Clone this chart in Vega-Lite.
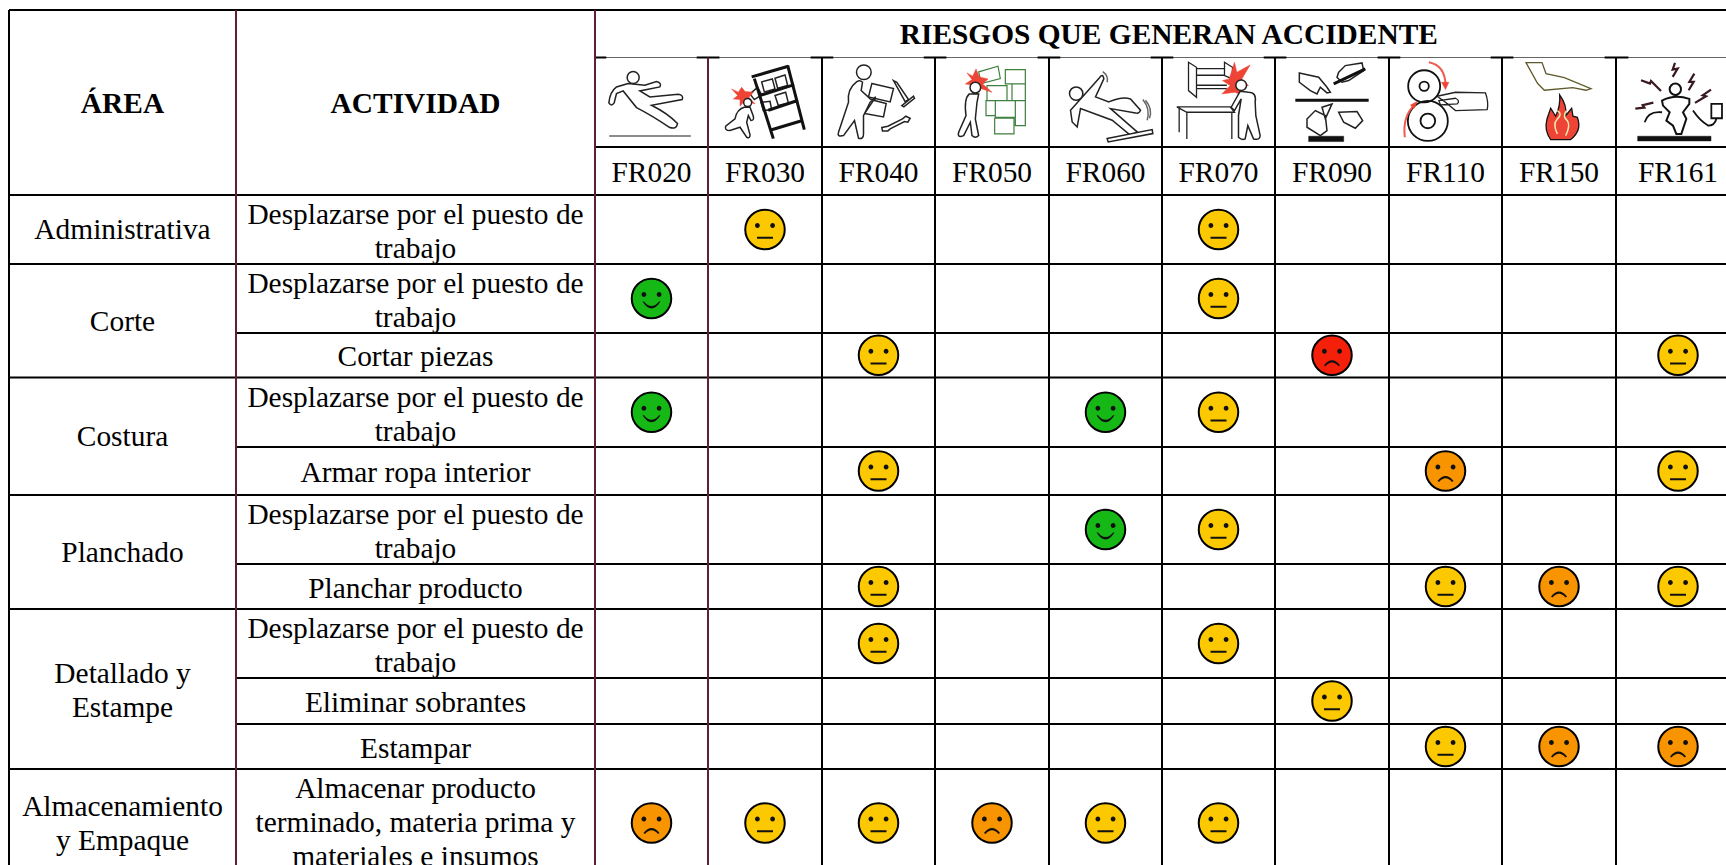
{
"$schema":"https://vega.github.io/schema/vega-lite/v6.json",
"width":1726,"height":865,"padding":0,"autosize":"none","background":"white",
"config":{"view":{"stroke":null}},
"resolve":{"scale":{"shape":"independent","fill":"independent","stroke":"independent","strokeWidth":"independent","color":"independent"}},
"datasets":{
"h":[
{"a":0,"b":12,"fila":0,"tipo":"negro"},
{"a":2,"b":12,"fila":1,"tipo":"gris"},
{"a":2,"b":2.1,"fila":1,"tipo":"negro"},{"a":2.9,"b":3.1,"fila":1,"tipo":"negro"},{"a":3.9,"b":4.1,"fila":1,"tipo":"negro"},{"a":4.9,"b":5.1,"fila":1,"tipo":"negro"},{"a":5.9,"b":6.1,"fila":1,"tipo":"negro"},{"a":6.9,"b":7.1,"fila":1,"tipo":"negro"},{"a":7.9,"b":8.1,"fila":1,"tipo":"negro"},{"a":8.9,"b":9.1,"fila":1,"tipo":"negro"},{"a":9.9,"b":10.1,"fila":1,"tipo":"negro"},{"a":10.9,"b":11.1,"fila":1,"tipo":"negro"},
{"a":2,"b":12,"fila":2,"tipo":"negro"},
{"a":0,"b":12,"fila":3,"tipo":"negro"},
{"a":0,"b":12,"fila":4,"tipo":"negro"},
{"a":1,"b":12,"fila":5,"tipo":"negro"},
{"a":0,"b":12,"fila":6,"tipo":"negro"},
{"a":1,"b":12,"fila":7,"tipo":"negro"},
{"a":0,"b":12,"fila":8,"tipo":"negro"},
{"a":1,"b":12,"fila":9,"tipo":"negro"},
{"a":0,"b":12,"fila":10,"tipo":"negro"},
{"a":1,"b":12,"fila":11,"tipo":"negro"},
{"a":1,"b":12,"fila":12,"tipo":"negro"},
{"a":0,"b":12,"fila":13,"tipo":"negro"}
],
"v":[
{"col":0,"a":0,"b":14,"tipo":"negro"},
{"col":1,"a":0,"b":14,"tipo":"guinda"},
{"col":2,"a":0,"b":14,"tipo":"guinda"},
{"col":3,"a":1,"b":14,"tipo":"guinda"},
{"col":4,"a":1,"b":14,"tipo":"negro"},
{"col":5,"a":1,"b":14,"tipo":"negro"},
{"col":6,"a":1,"b":14,"tipo":"negro"},
{"col":7,"a":1,"b":14,"tipo":"negro"},
{"col":8,"a":1,"b":14,"tipo":"negro"},
{"col":9,"a":1,"b":14,"tipo":"negro"},
{"col":10,"a":1,"b":14,"tipo":"negro"},
{"col":11,"a":1,"b":14,"tipo":"negro"}
],
"iconos":[
{"col":2.5,"parte":"fr020_cuerpo","estilo":"linea"},
{"col":2.5,"parte":"fr020_cabeza","estilo":"linea"},
{"col":2.5,"parte":"fr020_piso","estilo":"gris"},
{"col":3.5,"parte":"fr030_cajas","estilo":"linea"},
{"col":3.5,"parte":"fr030_estante","estilo":"grueso"},
{"col":3.5,"parte":"fr030_golpe","estilo":"rojo"},
{"col":3.5,"parte":"fr030_persona","estilo":"linea"},
{"col":4.5,"parte":"fr040_cajas","estilo":"linea"},
{"col":4.5,"parte":"fr040_persona","estilo":"linea"},
{"col":4.5,"parte":"fr040_herr","estilo":"linea"},
{"col":5.5,"parte":"fr050_cajas","estilo":"verde"},
{"col":5.5,"parte":"fr050_golpe","estilo":"rojo"},
{"col":5.5,"parte":"fr050_persona","estilo":"linea"},
{"col":6.5,"parte":"fr060_cuerpo","estilo":"linea"},
{"col":6.5,"parte":"fr060_tabla","estilo":"linea"},
{"col":6.5,"parte":"fr060_mov","estilo":"gris"},
{"col":7.5,"parte":"fr070_mueble","estilo":"trazo"},
{"col":7.5,"parte":"fr070_golpe","estilo":"rojo"},
{"col":7.5,"parte":"fr070_persona","estilo":"linea"},
{"col":8.5,"parte":"fr090_manos","estilo":"linea"},
{"col":8.5,"parte":"fr090_linea","estilo":"grueso"},
{"col":8.5,"parte":"fr090_base","estilo":"solido"},
{"col":9.5,"parte":"fr110_mano","estilo":"trazo"},
{"col":9.5,"parte":"fr110_rodillos","estilo":"rueda"},
{"col":9.5,"parte":"fr110_arco","estilo":"flecha"},
{"col":9.5,"parte":"fr110_punta","estilo":"rojo"},
{"col":10.5,"parte":"fr150_mano","estilo":"oliva"},
{"col":10.5,"parte":"fr150_llama","estilo":"rojoborde"},
{"col":10.5,"parte":"fr150_interior","estilo":"crema"},
{"col":11.5,"parte":"fr161_cuerpo","estilo":"lineagruesa"},
{"col":11.5,"parte":"fr161_cable","estilo":"rueda"},
{"col":11.5,"parte":"fr161_rayos","estilo":"rayo"},
{"col":11.5,"parte":"fr161_base","estilo":"solido"}
],
"caras":[
{"col":3.5,"fila":3.5,"nivel":"amarillo","gesto":"neutro"},{"col":7.5,"fila":3.5,"nivel":"amarillo","gesto":"neutro"},
{"col":2.5,"fila":4.5,"nivel":"verde","gesto":"sonrisa"},{"col":7.5,"fila":4.5,"nivel":"amarillo","gesto":"neutro"},
{"col":4.5,"fila":5.5,"nivel":"amarillo","gesto":"neutro"},{"col":8.5,"fila":5.5,"nivel":"rojo","gesto":"triste"},{"col":11.5,"fila":5.5,"nivel":"amarillo","gesto":"neutro"},
{"col":2.5,"fila":6.5,"nivel":"verde","gesto":"sonrisa"},{"col":6.5,"fila":6.5,"nivel":"verde","gesto":"sonrisa"},{"col":7.5,"fila":6.5,"nivel":"amarillo","gesto":"neutro"},
{"col":4.5,"fila":7.5,"nivel":"amarillo","gesto":"neutro"},{"col":9.5,"fila":7.5,"nivel":"naranja","gesto":"triste"},{"col":11.5,"fila":7.5,"nivel":"amarillo","gesto":"neutro"},
{"col":6.5,"fila":8.5,"nivel":"verde","gesto":"sonrisa"},{"col":7.5,"fila":8.5,"nivel":"amarillo","gesto":"neutro"},
{"col":4.5,"fila":9.5,"nivel":"amarillo","gesto":"neutro"},{"col":9.5,"fila":9.5,"nivel":"amarillo","gesto":"neutro"},{"col":10.5,"fila":9.5,"nivel":"naranja","gesto":"triste"},{"col":11.5,"fila":9.5,"nivel":"amarillo","gesto":"neutro"},
{"col":4.5,"fila":10.5,"nivel":"amarillo","gesto":"neutro"},{"col":7.5,"fila":10.5,"nivel":"amarillo","gesto":"neutro"},
{"col":8.5,"fila":11.5,"nivel":"amarillo","gesto":"neutro"},
{"col":9.5,"fila":12.5,"nivel":"amarillo","gesto":"neutro"},{"col":10.5,"fila":12.5,"nivel":"naranja","gesto":"triste"},{"col":11.5,"fila":12.5,"nivel":"naranja","gesto":"triste"},
{"col":2.5,"fila":13.5,"nivel":"naranja","gesto":"triste"},{"col":3.5,"fila":13.5,"nivel":"amarillo","gesto":"neutro"},{"col":4.5,"fila":13.5,"nivel":"amarillo","gesto":"neutro"},{"col":5.5,"fila":13.5,"nivel":"naranja","gesto":"triste"},{"col":6.5,"fila":13.5,"nivel":"amarillo","gesto":"neutro"},{"col":7.5,"fila":13.5,"nivel":"amarillo","gesto":"neutro"}
],
"titulos":[
{"col":7.06,"fila":0.48,"texto":"RIESGOS QUE GENERAN ACCIDENTE"},
{"col":0.5,"fila":1.5,"texto":"ÁREA"},
{"col":1.5,"fila":1.5,"texto":"ACTIVIDAD"}
],
"textos":[
{"col":2.5,"fila":2.5,"texto":"FR020"},{"col":3.5,"fila":2.5,"texto":"FR030"},{"col":4.5,"fila":2.5,"texto":"FR040"},{"col":5.5,"fila":2.5,"texto":"FR050"},{"col":6.5,"fila":2.5,"texto":"FR060"},{"col":7.5,"fila":2.5,"texto":"FR070"},{"col":8.5,"fila":2.5,"texto":"FR090"},{"col":9.5,"fila":2.5,"texto":"FR110"},{"col":10.5,"fila":2.5,"texto":"FR150"},{"col":11.5,"fila":2.5,"texto":"FR161"},
{"col":0.5,"fila":3.48,"texto":"Administrativa"},
{"col":0.5,"fila":4.81,"texto":"Corte"},
{"col":0.5,"fila":6.83,"texto":"Costura"},
{"col":0.5,"fila":8.81,"texto":"Planchado"},
{"col":0.5,"fila":10.92,"texto":"Detallado y\nEstampe"},
{"col":0.5,"fila":13.33,"texto":"Almacenamiento\ny Empaque"},
{"col":1.5,"fila":3.26,"texto":"Desplazarse por el puesto de\ntrabajo"},
{"col":1.5,"fila":4.26,"texto":"Desplazarse por el puesto de\ntrabajo"},
{"col":1.5,"fila":5.5,"texto":"Cortar piezas"},
{"col":1.5,"fila":6.26,"texto":"Desplazarse por el puesto de\ntrabajo"},
{"col":1.5,"fila":7.5,"texto":"Armar ropa interior"},
{"col":1.5,"fila":8.26,"texto":"Desplazarse por el puesto de\ntrabajo"},
{"col":1.5,"fila":9.5,"texto":"Planchar producto"},
{"col":1.5,"fila":10.26,"texto":"Desplazarse por el puesto de\ntrabajo"},
{"col":1.5,"fila":11.5,"texto":"Eliminar sobrantes"},
{"col":1.5,"fila":12.5,"texto":"Estampar"},
{"col":1.5,"fila":13.17,"texto":"Almacenar producto\nterminado, materia prima y\nmateriales e insumos"}
]
},
"layer":[
{"data":{"name":"h"},"mark":{"type":"rule"},
"encoding":{
"x":{"field":"a","type":"quantitative","axis":null,"scale":{"domain":[0,1,2,3,4,5,6,7,8,9,10,11,12],"range":[9,236,595,708,822,935,1049,1162,1275,1389,1502,1616,1740]}},
"x2":{"field":"b"},
"y":{"field":"fila","type":"quantitative","axis":null,"scale":{"domain":[0,1,2,3,4,5,6,7,8,9,10,11,12,13,14],"range":[10,57.5,147,195,264,333,377.5,447,495,564,609,678,724,769,877]}},
"color":{"field":"tipo","type":"nominal","legend":null,"scale":{"domain":["negro","guinda","gris"],"range":["#000000","#5f2030","#666666"]}},
"strokeWidth":{"field":"tipo","type":"nominal","legend":null,"scale":{"type":"ordinal","domain":["negro","guinda","gris"],"range":[2,2,1]}}
}},
{"data":{"name":"v"},"mark":{"type":"rule"},
"encoding":{
"x":{"field":"col","type":"quantitative","axis":null},
"y":{"field":"a","type":"quantitative","axis":null},
"y2":{"field":"b"},
"color":{"field":"tipo","type":"nominal","legend":null,"scale":{"domain":["negro","guinda","gris"],"range":["#000000","#5f2030","#666666"]}},
"strokeWidth":{"field":"tipo","type":"nominal","legend":null,"scale":{"type":"ordinal","domain":["negro","guinda","gris"],"range":[2,2,1]}}
}},
{"data":{"name":"iconos"},"mark":{"type":"point","filled":true,"opacity":1,"size":0.4444},
"encoding":{
"x":{"field":"col","type":"quantitative","axis":null},
"y":{"datum":1.5,"type":"quantitative","axis":null},
"shape":{"field":"parte","type":"nominal","legend":null,"scale":{
"domain":["fr020_cuerpo","fr020_cabeza","fr020_piso","fr030_cajas","fr030_estante","fr030_golpe","fr030_persona","fr040_cajas","fr040_persona","fr040_herr","fr050_cajas","fr050_golpe","fr050_persona","fr060_cuerpo","fr060_tabla","fr060_mov","fr070_mueble","fr070_golpe","fr070_persona","fr090_manos","fr090_linea","fr090_base","fr110_mano","fr110_rodillos","fr110_arco","fr110_punta","fr150_mano","fr150_llama","fr150_interior","fr161_cuerpo","fr161_cable","fr161_rayos","fr161_base"],
"range":[
"M -70 -56 L -105 -46 Q -125 -31 -128 2 Q -120 14 -112 2 L -105 -26 L -85 -34 L -45 16 Q 0 39 55 76 Q 75 82 78 64 Q 50 34 0 9 L 92 -8 Q 98 -21 80 -24 L -5 -16 L -35 -34 L 25 -46 Q 32 -58 15 -62 L -20 -51 Z",
"M -73 -74 A 18 18 0 1 0 -37 -74 A 18 18 0 1 0 -73 -74 Z",
"M -127 101 L 118 101",
"M -10 -61 L 22 -70 L 30 -40 L -2 -31 Z M 30 -72 L 60 -82 L 68 -50 L 38 -42 Z M 30 -20 L 62 -30 L 70 2 L 40 10 Z M -45 -25 L -22 -45 L -10 -22 L -32 -8 Z M -12 0 L 15 -3 L 20 22 L -5 25 Z",
"M -32 -71 L 25 109 M 68 -111 L 118 82 M -40 -76 L 70 -108 M -13 -21 L 88 -53 M 10 24 L 100 -6 M 15 84 L 115 54",
"M -100 -40 L -80 -30 L -70 -45 L -60 -32 L -35 -30 L -48 -15 L -30 5 L -60 -5 L -75 12 L -75 -8 L -95 -10 L -82 -20 Z",
"M -64 1 A 12 12 0 1 0 -40 1 A 12 12 0 1 0 -64 1 Z M -60 14 Q -85 20 -90 50 L -118 72 Q -122 85 -105 85 L -75 75 L -55 105 Q -45 110 -45 98 L -55 60 L -50 40 L -42 55 Q -32 55 -35 42 L -45 15 Z",
"M -20 -56 L 45 -41 L 35 -1 L -30 -16 Z M -15 -6 L 23 4 L 15 44 L -42 34 Z",
"M -66 -90 A 22 22 0 1 0 -22 -90 A 22 22 0 1 0 -66 -90 Z M -65 -62 Q -95 -40 -90 0 L -120 90 Q -125 105 -105 100 L -72 55 L -60 108 Q -45 112 -45 95 L -45 40 L -25 0 L -10 -15 Q -5 -5 -25 -10 L -52 -35 L -48 -60 Q -55 -68 -65 -62 Z",
"M 45 -65 L 55 -60 L 90 -8 L 80 -2 Z M 70 10 L 105 -18 L 108 -12 L 76 14 Z M 10 76 L 28 72 L 72 50 L 82 42 L 95 48 L 88 60 L 78 58 L 35 80 L 28 86 L 12 86 Z",
"M -40 -91 L 18 -108 L 25 -71 L -32 -56 Z M 40 -98 L 100 -98 L 100 -55 L 40 -55 Z M 60 -55 L 100 -55 L 100 -5 L 60 -5 Z M 70 -5 L 100 -5 L 100 70 L 70 70 Z M -18 -5 L 10 -5 L 10 40 L -18 40 Z M -15 -50 L 45 -50 L 45 -5 L -15 -5 Z M 10 -5 L 70 -5 L 70 45 L 10 45 Z M 8 48 L 66 48 L 66 95 L 8 95 Z",
"M -75 -88 L -58 -78 L -48 -100 L -38 -76 L -12 -70 L -28 -55 L 0 -30 L -30 -40 L -50 -50 L -80 -55 L -60 -68 Z",
"M -66 -44 A 16 16 0 1 0 -34 -44 A 16 16 0 1 0 -66 -44 Z M -68 -25 Q -85 -10 -78 40 L -100 90 Q -105 108 -85 100 L -65 60 L -60 100 Q -50 110 -40 100 L -50 50 L -45 0 L -40 -25 Z",
"M -108 -26 A 20 20 0 1 0 -68 -26 A 20 20 0 1 0 -108 -26 Z M -60 -26 L -20 -71 Q -8 -90 -5 -70 L -30 -16 L 10 -1 Q 50 -18 75 -10 L 105 24 Q 100 36 90 32 L 15 19 L 95 89 L 75 99 L 20 54 L -75 19 L -85 74 L -100 59 L -105 24 Z",
"M 5 109 L 140 82 L 142 94 L 8 119 Z",
"M 112 -8 Q 135 20 125 54 M 120 -6 Q 142 20 132 48 M -8 -92 Q 10 -78 5 -60",
"M -90 -120 L -66 -105 L -66 -15 L -90 -35 Z M -66 -101 L 20 -101 M -66 -81 L 20 -81 M -66 -51 L 25 -51 M -66 -41 L 25 -41 M 18 -120 L 42 -105 L 42 -70 L 18 -80 Z M -125 14 L 35 14 L 48 30 L -95 30 Z M -118 14 L -118 90 M -95 30 L -95 110 M 40 30 L 40 110",
"M 12 -65 L 32 -70 L 48 -120 L 55 -90 L 95 -112 L 70 -70 L 90 -50 L 68 -45 L 70 -20 L 50 -30 L 10 -25 L 35 -50 Z",
"M 52 -51 A 16 16 0 1 0 84 -51 A 16 16 0 1 0 52 -51 Z M 90 -30 Q 115 -30 110 0 L 112 40 L 125 100 Q 125 115 105 110 L 88 70 L 80 110 Q 70 115 60 105 L 60 40 L 68 -10 L 48 25 L 38 15 L 65 -33 Z",
"M -98 -88 L -40 -75 L -15 -45 L -5 -30 L -15 -28 L -35 -45 L -45 -25 L -65 -35 L -98 -60 Z M 20 -90 L 40 -110 L 90 -118 L 95 -95 L 50 -65 L 30 -60 L 15 -75 Z M 20 30 L 75 28 L 92 55 L 70 78 L 35 60 Z M -30 15 L 0 5 L -20 50 Z M -75 50 L -50 25 L -20 40 L -15 85 L -35 100 L -75 75 Z",
"M -110 -6 L 110 -6 M 5 -55 L 100 -100",
"M -70 102 L 35 102 L 35 118 L -70 118 Z",
"M -25 -18 L 30 -30 L 120 -28 Q 130 0 125 22 L 30 25 L 0 0 Z M -20 -5 L 30 -12 Q 45 -5 35 5 L -15 8 Z",
"M -112 -48 A 48 48 0 1 0 -16 -48 A 48 48 0 1 0 -112 -48 Z M -78 -48 A 14 14 0 1 0 -50 -48 A 14 14 0 1 0 -78 -48 Z M -113 56 A 60 60 0 1 0 7 56 A 60 60 0 1 0 -113 56 Z M -75 56 A 22 22 0 1 0 -31 56 A 22 22 0 1 0 -75 56 Z",
"M -50 -120 Q 0 -110 0 -50 M -122 105 Q -130 40 -90 5",
"M -12 -60 L 10 -60 L 0 -38 Z M -105 8 L -85 -2 L -95 20 Z",
"M -99 -119 L -51 -119 L -39 -86 L 16 -74 L 96 -41 L 81 -36 L 41 -44 L -44 -36 L -64 -56 Z",
"M -25 112 Q -45 85 -36 50 L -25 18 L -10 42 Q 5 10 2 -22 Q 25 10 20 40 L 38 18 L 42 42 L 55 45 Q 70 85 35 112 Z",
"M -5 95 Q -20 65 -5 50 Q 12 35 -5 25 M 20 100 Q 35 70 25 55 Q 10 45 22 25",
"M -25 -39 A 17 17 0 1 0 9 -39 A 17 17 0 1 0 -25 -39 Z M -48 -5 Q -10 -25 34 -10 L 34 5 L 15 30 L 25 50 L 10 95 L -5 95 L -15 70 L -35 55 L -25 30 L -45 10 Z",
"M -48 30 Q -90 25 -100 60 M 45 25 Q 65 55 90 70 Q 110 70 115 50 M 100 5 L 132 5 L 132 48 L 100 48 Z",
"M -9 -118 L -16 -98 L -1 -101 L -16 -76 M -111 -66 L -84 -56 L -81 -64 L -51 -34 M 49 -86 L 34 -61 L 47 -61 L 32 -36 M 99 -38 L 74 -21 L 84 -18 L 51 2 M -74 1 L -106 9 L -101 16 L -128 19",
"M -121 102 L 99 102 L 99 116 L -121 116 Z"
]}},
"fill":{"field":"estilo","type":"nominal","legend":null,"scale":{"domain":["linea","trazo","grueso","solido","rojo","rojoborde","flecha","gris","verde","oliva","crema","rayo","rueda","lineagruesa"],"range":["#ffffff","transparent","transparent","#111111","#ee4436","#ee4436","transparent","transparent","#ffffff","#ffffff","transparent","transparent","transparent","#ffffff"]}},
"stroke":{"field":"estilo","type":"nominal","legend":null,"scale":{"domain":["linea","trazo","grueso","solido","rojo","rojoborde","flecha","gris","verde","oliva","crema","rayo","rueda","lineagruesa"],"range":["#222222","#222222","#111111","#111111","#ee4436","#111111","#ef5b50","#666666","#3f7f3f","#5f5a2c","#f3ebb0","#3a1820","#111111","#111111"]}},
"strokeWidth":{"field":"estilo","type":"nominal","legend":null,"scale":{"type":"ordinal","domain":["linea","trazo","grueso","solido","rojo","rojoborde","flecha","gris","verde","oliva","crema","rayo","rueda","lineagruesa"],"range":[1.5,1.3,3,0.5,0.5,1.3,2,1.5,1.2,1.3,1.5,2.2,1.8,2]}}
}},
{"data":{"name":"caras"},"mark":{"type":"point","filled":true,"opacity":1,"shape":"circle","size":1560,"stroke":"#000000","strokeWidth":2},
"encoding":{
"x":{"field":"col","type":"quantitative","axis":null},
"y":{"field":"fila","type":"quantitative","axis":null},
"fill":{"field":"nivel","type":"nominal","legend":null,"scale":{"domain":["amarillo","verde","naranja","rojo"],"range":["#fcc800","#16b816","#f79400","#f5200a"]}}
}},
{"data":{"name":"caras"},"mark":{"type":"point","filled":true,"opacity":1,"size":4,"fill":"#111111","strokeWidth":0},
"encoding":{
"x":{"field":"col","type":"quantitative","axis":null},
"y":{"field":"fila","type":"quantitative","axis":null},
"shape":{"field":"gesto","type":"nominal","legend":null,"scale":{"domain":["neutro","sonrisa","triste"],"range":[
"M -10 -4 A 2.4 2.4 0 1 0 -5.2 -4 A 2.4 2.4 0 1 0 -10 -4 Z M 5.2 -4 A 2.4 2.4 0 1 0 10 -4 A 2.4 2.4 0 1 0 5.2 -4 Z M -8 7.2 L 8 7.2 L 8 9.2 L -8 9.2 Z",
"M -10 -4 A 2.4 2.4 0 1 0 -5.2 -4 A 2.4 2.4 0 1 0 -10 -4 Z M 5.2 -4 A 2.4 2.4 0 1 0 10 -4 A 2.4 2.4 0 1 0 5.2 -4 Z M -9 3 L -7.5 3 Q 0 12 7.5 3 L 9 3 Q 0 17 -9 3 Z",
"M -10 -4 A 2.4 2.4 0 1 0 -5.2 -4 A 2.4 2.4 0 1 0 -10 -4 Z M 5.2 -4 A 2.4 2.4 0 1 0 10 -4 A 2.4 2.4 0 1 0 5.2 -4 Z M -8 10 Q 0 0 8 10 L 6.5 11 Q 0 3.5 -6.5 11 Z"
]}}
}},
{"data":{"name":"titulos"},"mark":{"type":"text","font":"Liberation Serif","fontWeight":"bold","fontSize":29.4,"align":"center","baseline":"middle","color":"#000000","dy":2},
"encoding":{
"x":{"field":"col","type":"quantitative","axis":null},
"y":{"field":"fila","type":"quantitative","axis":null},
"text":{"field":"texto","type":"nominal"}
}},
{"data":{"name":"textos"},"mark":{"type":"text","font":"Liberation Serif","fontSize":29.4,"align":"center","baseline":"middle","color":"#000000","lineBreak":"\n","lineHeight":34,"dy":2},
"encoding":{
"x":{"field":"col","type":"quantitative","axis":null},
"y":{"field":"fila","type":"quantitative","axis":null},
"text":{"field":"texto","type":"nominal"}
}}
]
}
